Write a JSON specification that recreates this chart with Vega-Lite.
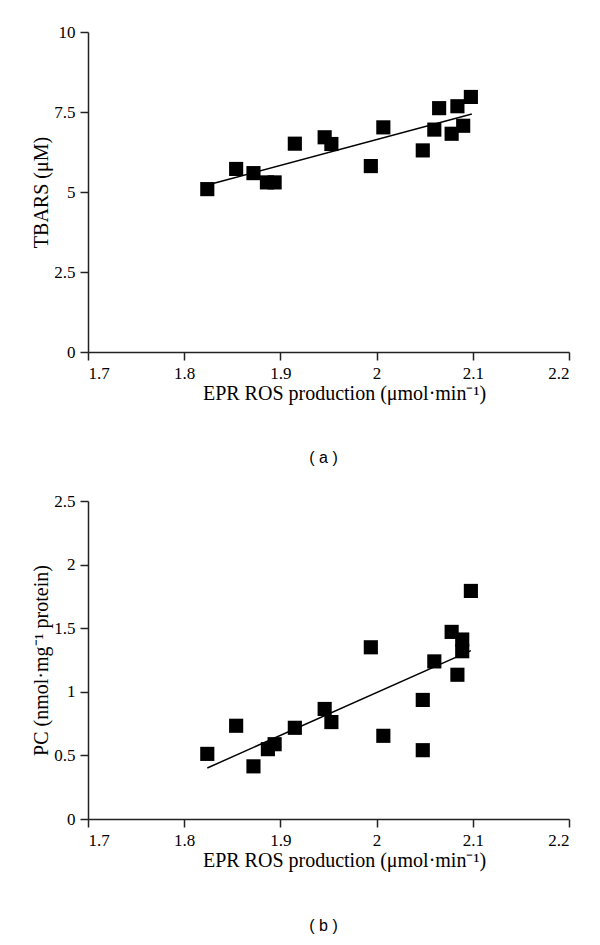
{
  "$schema": "https://vega.github.io/schema/vega-lite/v6.json",
  "background": "white",
  "padding": {"left": 31, "top": 23, "right": 5, "bottom": 5},
  "spacing": 26,
  "datasets": {
    "a": [
      {"ros": 1.824, "tbars": 5.09},
      {"ros": 1.854, "tbars": 5.72},
      {"ros": 1.872, "tbars": 5.59},
      {"ros": 1.886, "tbars": 5.30},
      {"ros": 1.894, "tbars": 5.30},
      {"ros": 1.915, "tbars": 6.51},
      {"ros": 1.946, "tbars": 6.71},
      {"ros": 1.953, "tbars": 6.50},
      {"ros": 1.994, "tbars": 5.81},
      {"ros": 2.007, "tbars": 7.02},
      {"ros": 2.048, "tbars": 6.30},
      {"ros": 2.060, "tbars": 6.95},
      {"ros": 2.065, "tbars": 7.62},
      {"ros": 2.078, "tbars": 6.82},
      {"ros": 2.084, "tbars": 7.68},
      {"ros": 2.090, "tbars": 7.07},
      {"ros": 2.098, "tbars": 7.97}
    ],
    "aLine": [
      {"ros": 1.828, "tbars": 5.25},
      {"ros": 2.099, "tbars": 7.44}
    ],
    "b": [
      {"ros": 1.824, "pc": 0.512},
      {"ros": 1.854, "pc": 0.733},
      {"ros": 1.872, "pc": 0.414},
      {"ros": 1.887, "pc": 0.549},
      {"ros": 1.894, "pc": 0.588},
      {"ros": 1.915, "pc": 0.717},
      {"ros": 1.946, "pc": 0.865},
      {"ros": 1.953, "pc": 0.762},
      {"ros": 1.994, "pc": 1.350},
      {"ros": 2.007, "pc": 0.654},
      {"ros": 2.048, "pc": 0.936},
      {"ros": 2.048, "pc": 0.541},
      {"ros": 2.060, "pc": 1.239},
      {"ros": 2.078, "pc": 1.471},
      {"ros": 2.084, "pc": 1.134},
      {"ros": 2.089, "pc": 1.411},
      {"ros": 2.089, "pc": 1.319},
      {"ros": 2.098, "pc": 1.793}
    ],
    "bLine": [
      {"ros": 1.824, "pc": 0.401},
      {"ros": 2.098, "pc": 1.324}
    ]
  },
  "vconcat": [
    {
      "width": 481,
      "height": 320,
      "title": {"text": "( a )", "orient": "bottom", "frame": "group", "anchor": "middle", "font": "Liberation Sans", "fontSize": 16, "fontWeight": "normal", "color": "black", "offset": 47, "dx": -5},
      "layer": [
        {
          "data": {"name": "aLine"},
          "mark": {"type": "line", "color": "black", "strokeWidth": 1.5},
          "encoding": {
            "x": {"field": "ros", "type": "quantitative"},
            "y": {"field": "tbars", "type": "quantitative"}
          }
        },
        {
          "data": {"name": "a"},
          "mark": {"type": "point", "shape": "square", "filled": true, "color": "black", "opacity": 1, "size": 200},
          "encoding": {
            "x": {"field": "ros", "type": "quantitative", "scale": {"domain": [1.7, 2.2], "nice": false, "zero": false},
                  "axis": {"values": [1.7, 1.8, 1.9, 2.0, 2.1, 2.2], "labelExpr": "'' + datum.value", "title": "EPR ROS production (μmol·min⁻¹)", "titleX": 256}},
            "y": {"field": "tbars", "type": "quantitative", "scale": {"domain": [0, 10], "nice": false},
                  "axis": {"values": [0, 2.5, 5, 7.5, 10], "labelExpr": "'' + datum.value", "title": "TBARS (μM)"}}
          }
        }
      ]
    },
    {
      "width": 481,
      "height": 318,
      "title": {"text": "( b )", "orient": "bottom", "frame": "group", "anchor": "middle", "font": "Liberation Sans", "fontSize": 16, "fontWeight": "normal", "color": "black", "offset": 48, "dx": -5},
      "layer": [
        {
          "data": {"name": "bLine"},
          "mark": {"type": "line", "color": "black", "strokeWidth": 1.5},
          "encoding": {
            "x": {"field": "ros", "type": "quantitative"},
            "y": {"field": "pc", "type": "quantitative"}
          }
        },
        {
          "data": {"name": "b"},
          "mark": {"type": "point", "shape": "square", "filled": true, "color": "black", "opacity": 1, "size": 200},
          "encoding": {
            "x": {"field": "ros", "type": "quantitative", "scale": {"domain": [1.7, 2.2], "nice": false, "zero": false},
                  "axis": {"values": [1.7, 1.8, 1.9, 2.0, 2.1, 2.2], "labelExpr": "'' + datum.value", "title": "EPR ROS production (μmol·min⁻¹)", "titleX": 256}},
            "y": {"field": "pc", "type": "quantitative", "scale": {"domain": [0, 2.5], "nice": false},
                  "axis": {"values": [0, 0.5, 1, 1.5, 2, 2.5], "labelExpr": "'' + datum.value", "title": "PC (nmol·mg⁻¹ protein)"}}
          }
        }
      ]
    }
  ],
  "config": {
    "view": {"stroke": null},
    "axis": {
      "grid": false,
      "domainColor": "#222222",
      "domainWidth": 1.5,
      "tickColor": "#222222",
      "tickWidth": 1.5,
      "tickSize": 8,
      "labelPadding": 5,
      "labelFont": "Liberation Serif",
      "labelFontSize": 17,
      "labelColor": "black",
      "titleFont": "Liberation Serif",
      "titleFontSize": 20,
      "titleFontWeight": "normal",
      "titleColor": "black",
      "titlePadding": 2
    }
  }
}
